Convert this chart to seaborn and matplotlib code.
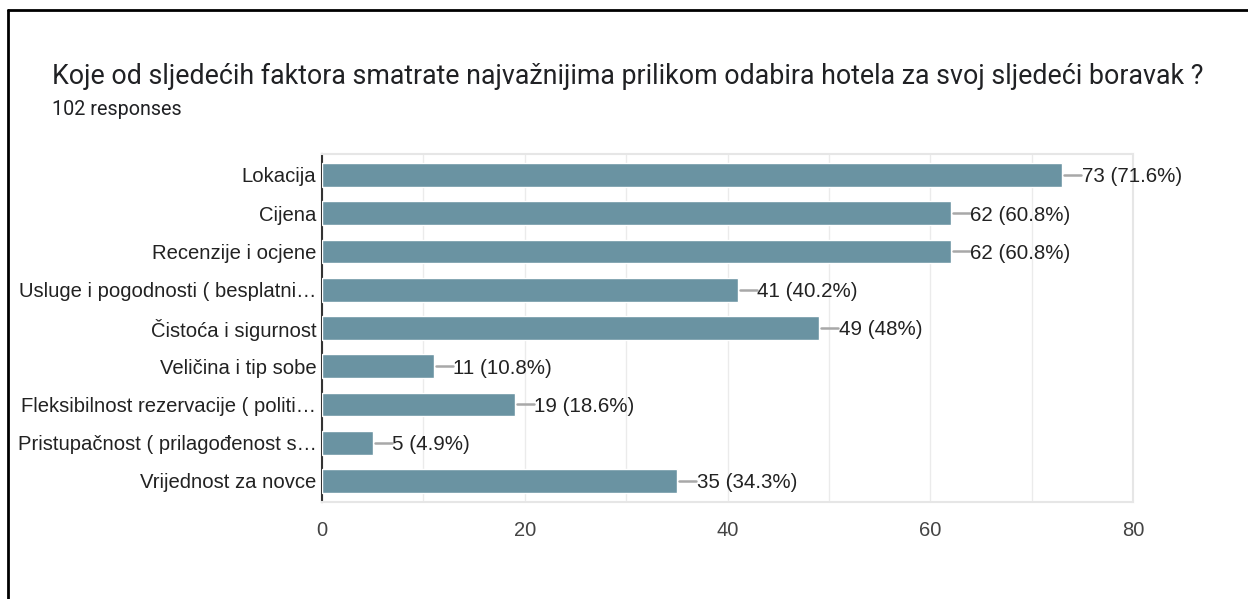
import matplotlib.pyplot as plt
import pandas as pd
import seaborn as sns

# Survey data
factors = [
    "Lokacija",
    "Cijena",
    "Recenzije i ocjene",
    "Usluge i pogodnosti ( besplatni…",
    "Čistoća i sigurnost",
    "Veličina i tip sobe",
    "Fleksibilnost rezervacije ( politi…",
    "Pristupačnost ( prilagođenost s…",
    "Vrijednost za novce",
]
counts = [73, 62, 62, 41, 49, 11, 19, 5, 35]
percents = ["71.6%", "60.8%", "60.8%", "40.2%", "48%", "10.8%", "18.6%", "4.9%", "34.3%"]
x_ticks = [0, 20, 40, 60, 80]

title = "Koje od sljedećih faktora smatrate najvažnijima prilikom odabira hotela za svoj sljedeći boravak ?"
subtitle = "102 responses"

df = pd.DataFrame({"factor": factors, "count": counts, "pct": percents})

sns.set_style("white")
plt.rcParams["font.family"] = ["Liberation Sans", "DejaVu Sans"]

fig = plt.figure(figsize=(12.48, 5.99), dpi=100)
ax = fig.add_axes([0.258, 0.162, 0.65, 0.581])

sns.barplot(data=df, x="count", y="factor", orient="h", color="#6a93a2",
            saturation=1, width=0.62, ax=ax, zorder=3)

# connector lines and value labels
for i, row in df.iterrows():
    ax.plot([row["count"] + 0.2, row["count"] + 1.9], [i, i], color="#a8a8a8", lw=1.8, zorder=3)
    ax.text(row["count"] + 1.95, i, f"{row['count']} ({row['pct']})", va="center_baseline",
            ha="left", fontsize=14.8, color="#222222")

ax.set_xlim(0, 80)
ax.set_ylim(8.55, -0.55)
ax.set_xticks(x_ticks)
ax.set_xticks(range(0, 81, 10), minor=True)
ax.grid(axis="x", which="both", color="#ebebeb", lw=1, zorder=0)
ax.set_axisbelow(True)
ax.set_xlabel("")
ax.set_ylabel("")
ax.tick_params(axis="x", which="both", length=0, pad=14, labelsize=14.5, labelcolor="#444444")
ax.tick_params(axis="y", length=0, pad=4, labelsize=14.6, labelcolor="#222222")

for side in ["top", "right", "bottom"]:
    ax.spines[side].set_color("#e6e6e6")
    ax.spines[side].set_linewidth(1.5)
ax.spines["left"].set_color("#333333")
ax.spines["left"].set_linewidth(1.5)

fig.text(0.0417, 0.872, title, fontsize=19.3, family=["Roboto", "DejaVu Sans"],
         color="#202124", va="center", ha="left")
fig.text(0.0417, 0.818, subtitle, fontsize=14.2, family=["Roboto", "DejaVu Sans"],
         color="#202124", va="center", ha="left")

# outer frame (top and left edges like the screenshot)
fig.add_artist(plt.Line2D([0.0065, 0.0065], [0.0, 0.983], color="black", lw=2))
fig.add_artist(plt.Line2D([0.0065, 1.0], [0.983, 0.983], color="black", lw=2))

fig.savefig("out.png", dpi=100, facecolor="white")
